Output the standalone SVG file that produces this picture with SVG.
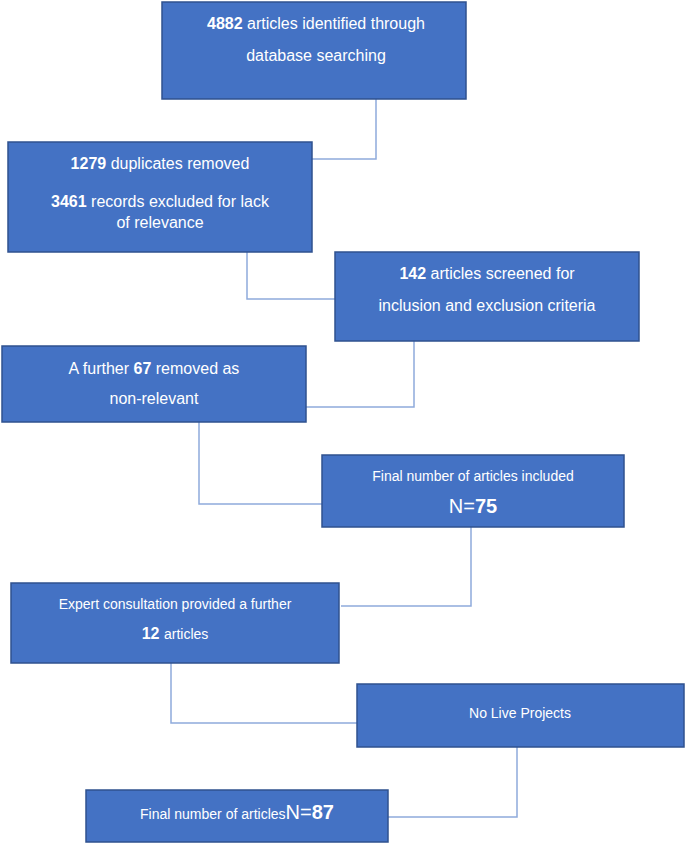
<svg xmlns="http://www.w3.org/2000/svg" width="685" height="845" viewBox="0 0 685 845">
<style>
.b{fill:#4472C4;stroke:#2F528F;stroke-width:1.5}
.t{fill:#fff;font-family:"Liberation Sans",Arial,sans-serif;font-size:16px;text-anchor:middle}
.s{font-size:14px}
.c{fill:none;stroke:#8FAADC;stroke-width:1.5}
b,.bd{font-weight:bold}
</style>
<rect width="685" height="845" fill="#fff"/>
<g id="connectors">
<polyline class="c" points="376,99 376,159 311,159"/>
<polyline class="c" points="247,252 247,299 335,299"/>
<polyline class="c" points="414,341 414,407 306,407"/>
<polyline class="c" points="199,422 199,504 322,504"/>
<polyline class="c" points="471,527 471,606 341,606"/>
<polyline class="c" points="171,663 171,723 357,723"/>
<polyline class="c" points="517,747 517,817 388,817"/>
</g>
<g id="n1"><rect class="b" x="162" y="2" width="304" height="97"/>
<text class="t" x="316" y="29"><tspan class="bd">4882</tspan> articles identified through</text>
<text class="t" x="316" y="61">database searching</text></g>
<g id="n2"><rect class="b" x="8" y="142" width="304" height="110"/>
<text class="t" x="160" y="169"><tspan class="bd">1279</tspan> duplicates removed</text>
<text class="t" x="160" y="207"><tspan class="bd">3461</tspan> records excluded for lack</text>
<text class="t" x="160" y="228">of relevance</text></g>
<g id="n3"><rect class="b" x="335" y="252" width="304" height="89"/>
<text class="t" x="487" y="279"><tspan class="bd">142</tspan> articles screened for</text>
<text class="t" x="487" y="311">inclusion and exclusion criteria</text></g>
<g id="n4"><rect class="b" x="2" y="346" width="304" height="76"/>
<text class="t" x="154" y="374">A further <tspan class="bd">67</tspan> removed as</text>
<text class="t" x="154" y="404">non-relevant</text></g>
<g id="n5"><rect class="b" x="322" y="455" width="302" height="72"/>
<text class="t s" x="473" y="481">Final number of articles included</text>
<text class="t" x="473" y="513" style="font-size:20px">N=<tspan class="bd">75</tspan></text></g>
<g id="n6"><rect class="b" x="11" y="583" width="328" height="80"/>
<text class="t s" x="175" y="609">Expert consultation provided a further</text>
<text class="t" x="175" y="639"><tspan class="bd">12</tspan> <tspan class="s">articles</tspan></text></g>
<g id="n7"><rect class="b" x="357" y="684" width="327" height="63"/>
<text class="t s" x="520" y="718">No Live Projects</text></g>
<g id="n8"><rect class="b" x="86" y="790" width="302" height="52"/>
<text class="t s" x="237" y="819">Final number of articles<tspan style="font-size:20px">N=<tspan class="bd">87</tspan></tspan></text></g>
</svg>
